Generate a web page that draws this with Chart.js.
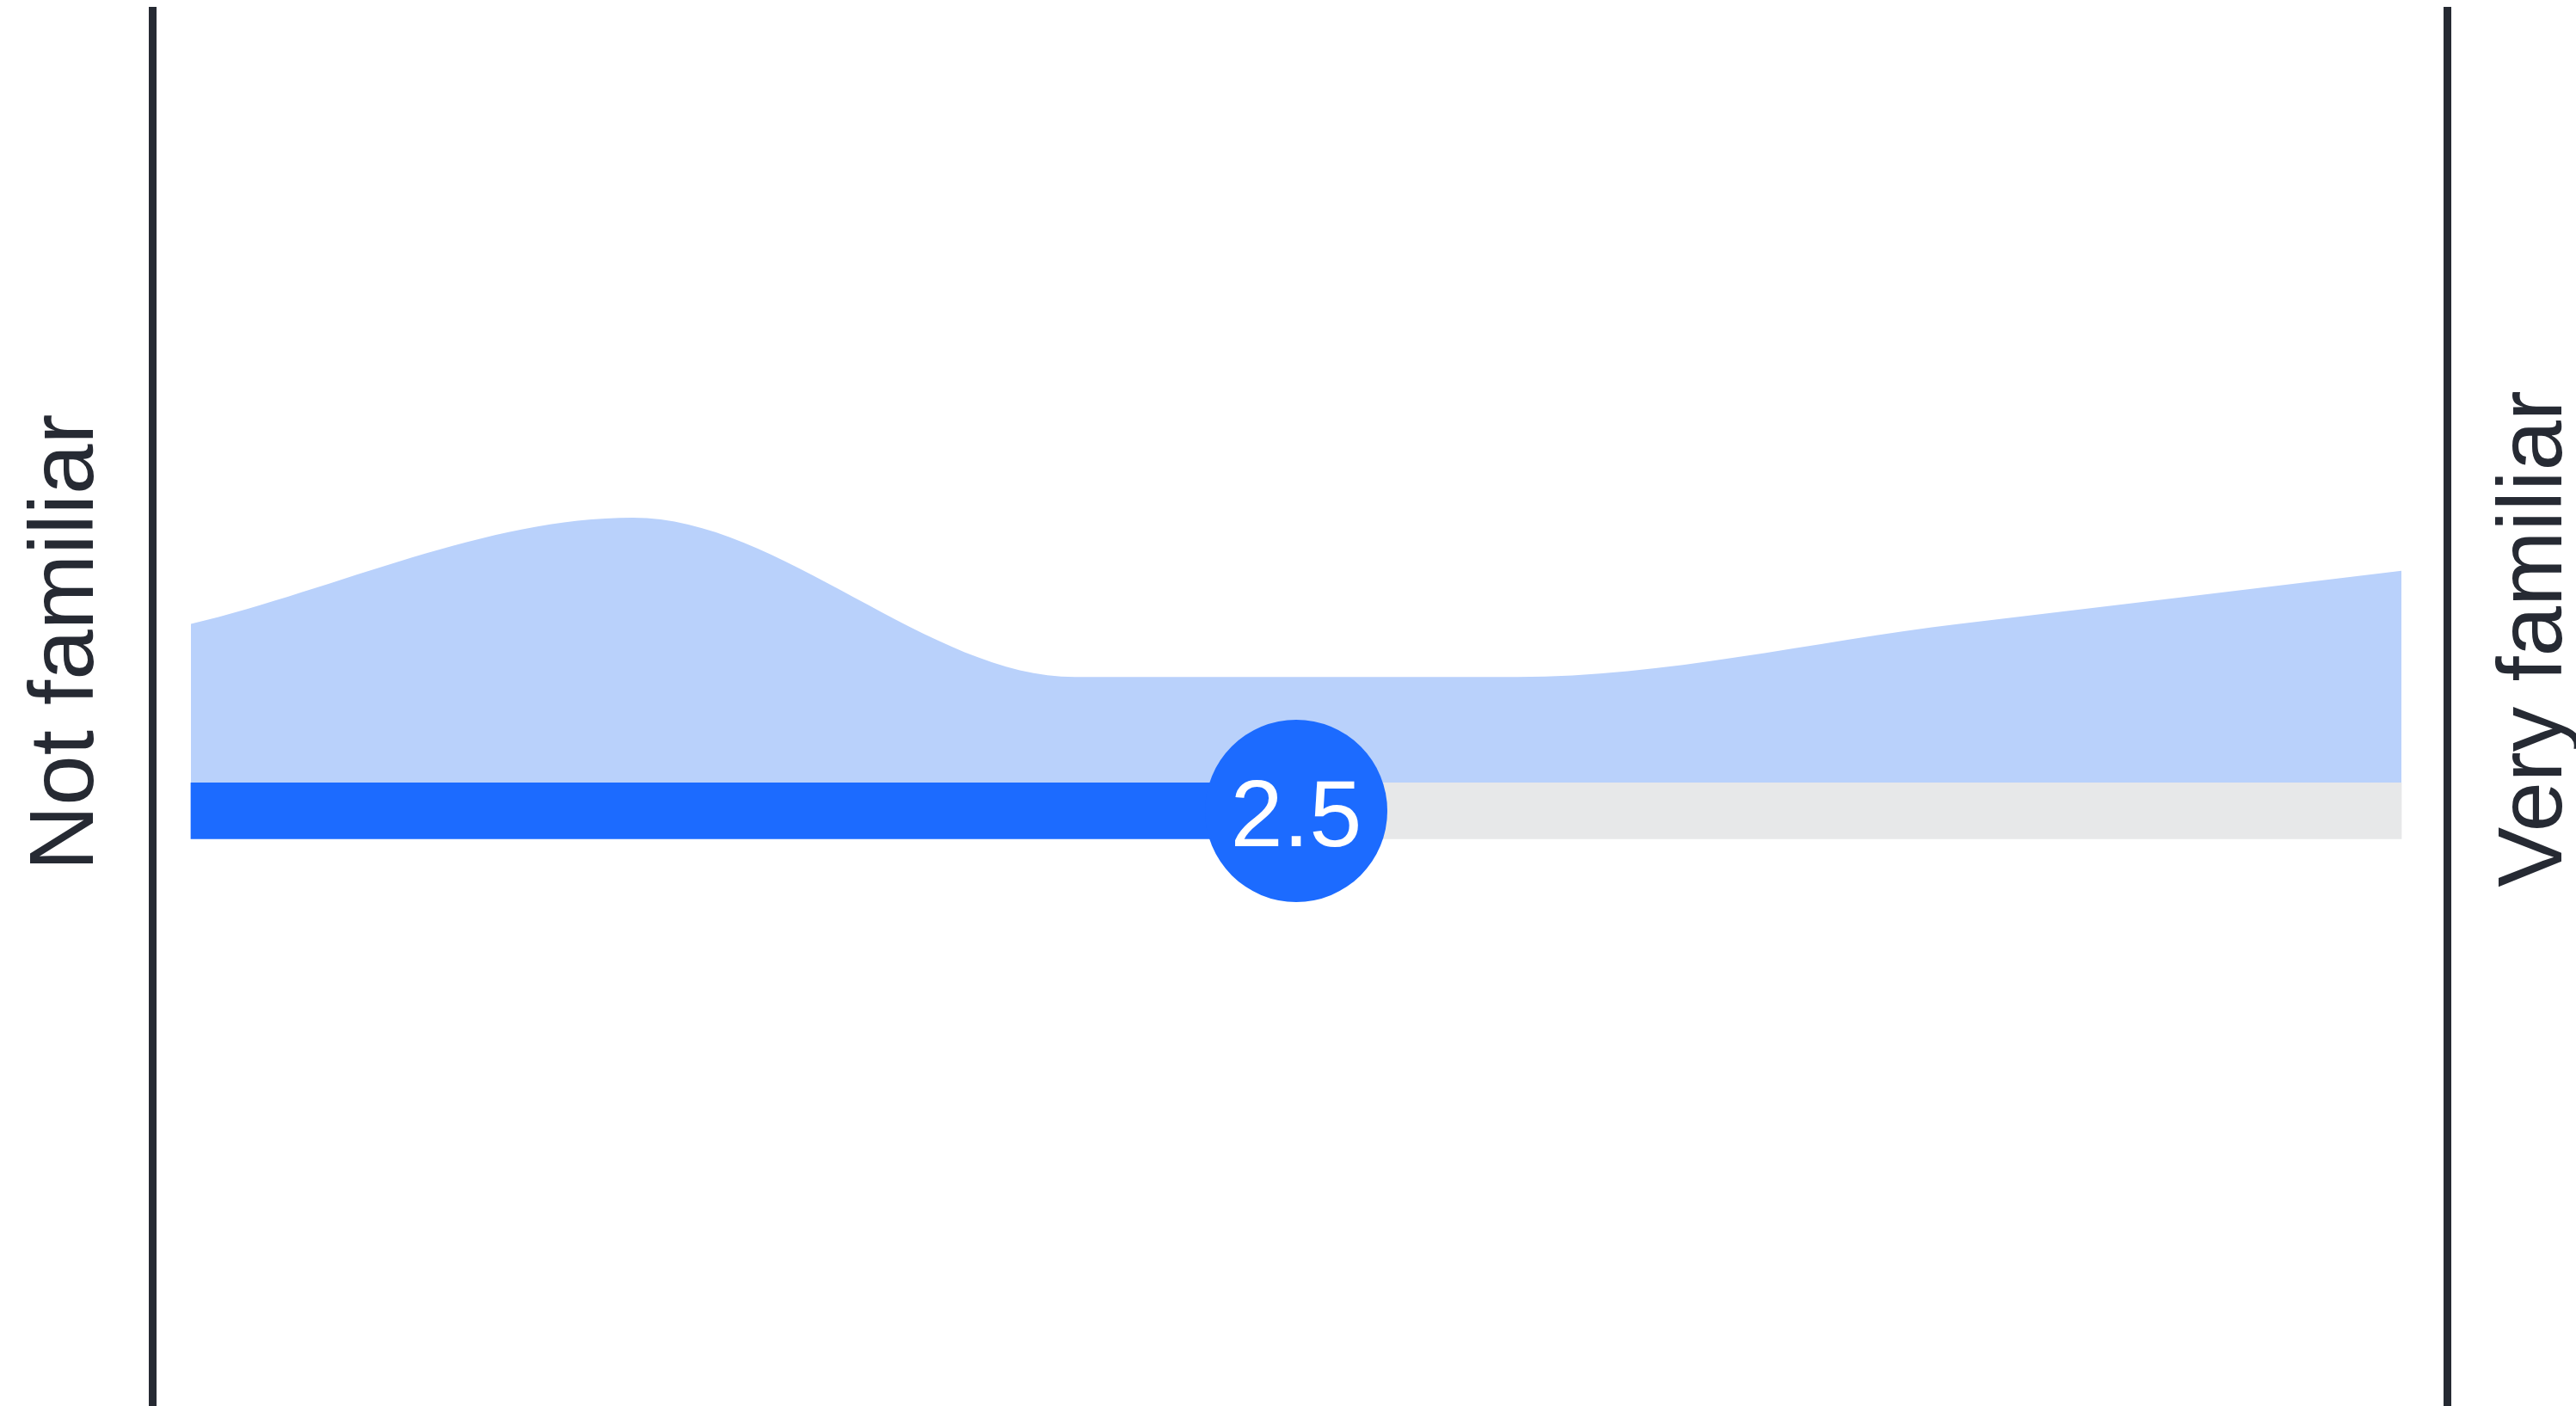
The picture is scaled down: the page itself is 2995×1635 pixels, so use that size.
<!DOCTYPE html>
<html>
<head>
<meta charset="utf-8">
<script src="https://cdn.jsdelivr.net/npm/chart.js@4.4.1/dist/chart.umd.min.js"></script>
<style>
  html, body { margin: 0; padding: 0; background: #ffffff; }
  canvas { display: block; }
</style>
</head>
<body>
<canvas id="chart" width="2995" height="1635"></canvas>
<script>
// ---- Data ----
const ratingValues   = [0, 1, 2, 3, 4, 5];      // familiarity rating scale
const responseCounts = [3, 5, 2, 2, 3, 4];      // responses per rating (distribution shape)
const averageRating  = 2.5;                     // mean shown in the badge
const scaleMin = 0;
const scaleMax = 5;
const lowLabel  = 'Not familiar';
const highLabel = 'Very familiar';

// ---- Styles ----
const BLUE  = '#1c6bff';
const AREA  = '#b9d1fb';
const GREY  = '#e7e8e9';
const INK   = '#262a33';
const FONT  = '"Liberation Sans", Arial, sans-serif';

const distributionPoints = ratingValues.map((v, i) => ({ x: v, y: responseCounts[i] }));

const labelPlugin = {
  id: 'familiarityLabels',
  afterDraw(chart) {
    const { ctx, chartArea } = chart;
    ctx.save();
    ctx.fillStyle = INK;
    ctx.font = '105px ' + FONT;
    ctx.textAlign = 'center';
    ctx.textBaseline = 'alphabetic';
    const drawRotated = (text, x, y) => {
      ctx.save();
      ctx.translate(x, y);
      ctx.rotate(-Math.PI / 2);
      ctx.fillText(text, 0, 0);
      ctx.restore();
    };
    drawRotated(lowLabel, chartArea.left - 69, 747);
    drawRotated(highLabel, chartArea.right + 133, 743);

    // value inside the badge
    const badge = chart.getDatasetMeta(0).data[0];
    if (badge) {
      ctx.fillStyle = '#ffffff';
      ctx.font = '110px ' + FONT;
      ctx.textAlign = 'center';
      ctx.textBaseline = 'alphabetic';
      ctx.fillText(averageRating.toFixed(1), badge.x, badge.y + 41);
    }
    ctx.restore();
  }
};

const hiddenAxisBase = {
  display: true,
  grid: { display: false, drawTicks: false, tickLength: 0 },
  ticks: { display: false },
  border: { display: true, color: INK, width: 9 },
  title: { display: false }
};

new Chart(document.getElementById('chart').getContext('2d'), {
  type: 'line',
  data: {
    datasets: [
      {
        type: 'scatter',
        label: 'Average',
        data: [{ x: averageRating, y: 0 }],
        xAxisID: 'x',
        yAxisID: 'yBar',
        pointRadius: 106,
        pointHoverRadius: 106,
        pointBackgroundColor: BLUE,
        pointBorderWidth: 0,
        backgroundColor: BLUE,
        borderWidth: 0,
        order: 0
      },
      {
        type: 'bar',
        label: 'Average level',
        indexAxis: 'y',
        data: [{ x: [scaleMin, averageRating], y: 0 }],
        xAxisID: 'x',
        yAxisID: 'yBar',
        backgroundColor: BLUE,
        borderWidth: 0,
        barThickness: 65,
        grouped: false,
        order: 1
      },
      {
        type: 'bar',
        label: 'Remaining',
        indexAxis: 'y',
        data: [{ x: [averageRating, scaleMax], y: 0 }],
        xAxisID: 'x',
        yAxisID: 'yBar',
        backgroundColor: GREY,
        borderWidth: 0,
        barThickness: 65,
        grouped: false,
        order: 2
      },
      {
        type: 'line',
        label: 'Distribution',
        data: distributionPoints,
        xAxisID: 'x',
        yAxisID: 'y',
        fill: 'origin',
        backgroundColor: AREA,
        borderWidth: 0,
        borderColor: 'rgba(0,0,0,0)',
        pointRadius: 0,
        cubicInterpolationMode: 'monotone',
        order: 3
      }
    ]
  },
  options: {
    responsive: false,
    devicePixelRatio: 1,
    animation: false,
    events: [],
    layout: { autoPadding: false, padding: { left: 177, right: 150, top: 12, bottom: 0 } },
    plugins: {
      legend: { display: false },
      tooltip: { enabled: false },
      title: { display: false }
    },
    scales: {
      x: { type: 'linear', min: scaleMin - 0.0875, max: scaleMax + 0.103, display: false, offset: false },
      y: Object.assign({ type: 'linear', position: 'left', min: -11.72, max: 14.55, offset: false }, hiddenAxisBase),
      yRight: Object.assign({ type: 'linear', position: 'right', min: 0, max: 1, offset: false }, hiddenAxisBase),
      yBar: { type: 'linear', position: 'left', min: -0.4264, max: 0.5736, display: false, offset: false, bounds: 'data', grace: 0 }
    }
  },
  plugins: [labelPlugin]
});
</script>
</body>
</html>
